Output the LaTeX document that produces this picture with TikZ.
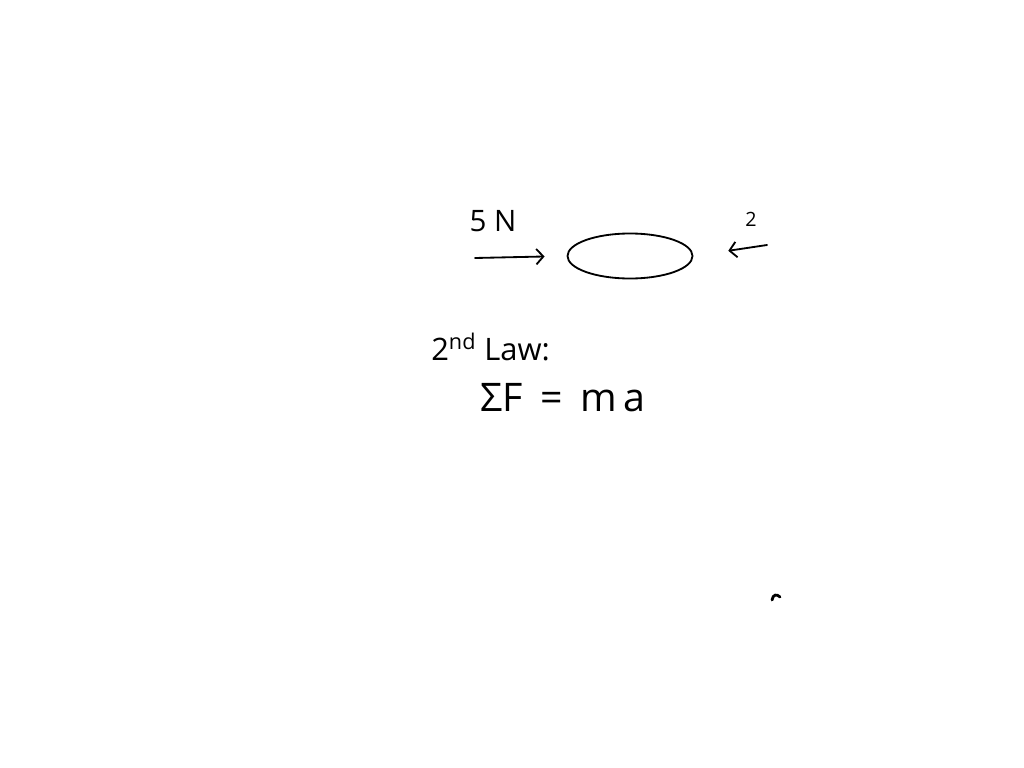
\documentclass[tikz,border=0pt]{standalone}
\usepackage{fontspec}
\setmainfont{Open Sans}
\usetikzlibrary{arrows.meta,positioning,shapes.geometric}

\begin{document}
\begin{tikzpicture}[x=0.025cm,y=-0.025cm,
  hand/.style={line width=1.3pt, line cap=round},
  force/.style={hand,-{Straight Barb[length=5pt,width=11pt]}},
  lbl/.style={inner sep=0pt, font=\fontsize{21}{23}\selectfont}]
\useasboundingbox[fill=white] (0,0) rectangle (1024,768);
% block with the two forces
\node[draw, hand, ellipse, minimum width=3.125cm, minimum height=1.125cm] (body) at (630,256) {};
\coordinate (ltail) at (475,258);
\coordinate (rtail) at (767,245);
\draw[force, shorten >=0.55cm] (ltail) -- (body.west);
\draw[force, shorten >=0.88cm] (rtail) -- (body.east);
\node[lbl] (fiveN) at (493,221) {5 N};
\node[lbl, font=\fontsize{14}{16}\selectfont] (two) at (751,219) {2};
% newton's law
\node[lbl, anchor=west, font=\fontsize{22}{24}\selectfont] (law) at (431,347) {2\textsuperscript{nd} Law:};
\node[lbl, font=\fontsize{28}{30}\selectfont] (eqn) at (563,398) {ΣF\hspace{0.45em}=\hspace{0.45em}m\,a};
\draw[hand, line width=2pt] (772,600) .. controls (773,594) and (777,594) .. (780,597);
\end{tikzpicture}
\end{document}
